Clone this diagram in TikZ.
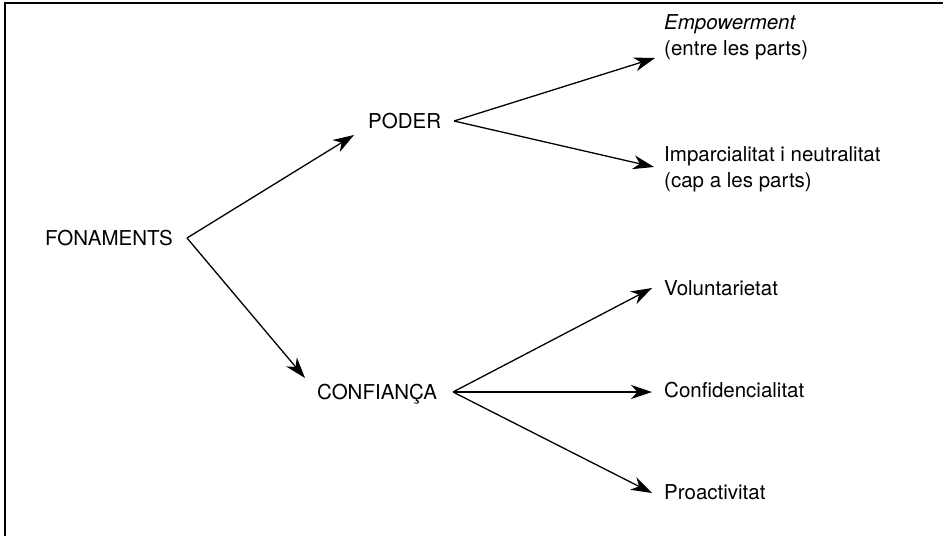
\documentclass[tikz,border=0pt]{standalone}
\usepackage{fontspec}
\setmainfont{TeX Gyre Heros}
\usetikzlibrary{arrows.meta}
\begin{document}
\begin{tikzpicture}[x=1pt,y=-1pt,
  lbl/.style={anchor=base west,inner sep=0pt,font=\fontsize{20.5}{25.5}\selectfont,align=left},
  conn/.style={line width=1.3pt,-{Stealth[length=21pt,width=14pt,inset=6.5pt]}},
  frame/.style={line width=1.6pt}]
\useasboundingbox (0,0) rectangle (943,536);
\draw[frame] (5,536) -- (5,3) -- (943,3);
% nodes
\node[lbl] (fon) at (45,245) {FONAMENTS};
\node[lbl] (pod) at (368,128) {PODER};
\node[lbl] (conf) at (317,399) {CONFIANÇA};
\node[lbl] (emp) at (664,55) {\textit{Empowerment}\\(entre les parts)};
\node[lbl] (imp) at (664,187) {Imparcialitat i neutralitat\\(cap a les parts)};
\node[lbl] (vol) at (664,295) {Voluntarietat};
\node[lbl] (cfd) at (664,397) {Confidencialitat};
\node[lbl] (pro) at (664,499) {Proactivitat};
% fork points and tips
\coordinate (f1) at (187,238);
\coordinate (f2) at (454,121);
\coordinate (f3) at (453,392);
\coordinate (t-pod) at (354,135);
\coordinate (t-conf) at (305,378);
\coordinate (t-emp) at (655,58);
\coordinate (t-imp) at (654,167);
\coordinate (t-vol) at (652,288);
\coordinate (t-cfd) at (652,392);
\coordinate (t-pro) at (652,493);
\draw[conn] (f1) -- (t-pod);
\draw[conn] (f1) -- (t-conf);
\draw[conn] (f2) -- (t-emp);
\draw[conn] (f2) -- (t-imp);
\draw[conn] (f3) -- (t-vol);
\draw[conn] (f3) -- (t-cfd);
\draw[conn] (f3) -- (t-pro);
\end{tikzpicture}
\end{document}
